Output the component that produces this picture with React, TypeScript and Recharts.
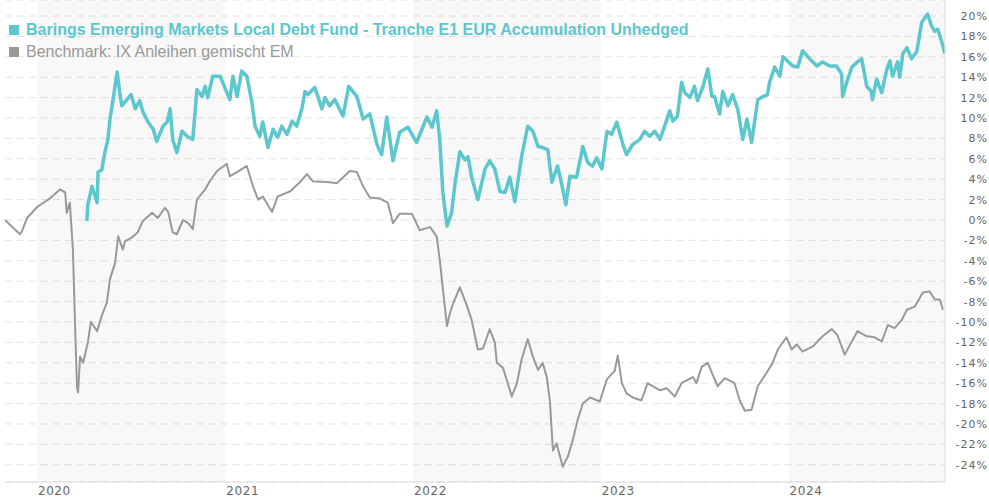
import React from 'react';
import { LineChart, Line, XAxis, YAxis, CartesianGrid, ReferenceArea } from 'recharts';

const fundName = 'Barings Emerging Markets Local Debt Fund - Tranche E1 EUR Accumulation Unhedged';
const benchName = 'Benchmark: IX Anleihen gemischt EM';

const benchDates = [
  '2019-10-31','2019-11-29','2019-12-03','2019-12-13','2020-01-02','2020-01-26','2020-02-15','2020-02-25','2020-02-28','2020-03-05',
  '2020-03-11','2020-03-15','2020-03-19','2020-03-21','2020-03-25','2020-03-31','2020-04-09','2020-04-15','2020-04-27','2020-05-06',
  '2020-05-16','2020-05-22','2020-06-01','2020-06-07','2020-06-16','2020-06-20','2020-07-04','2020-07-15','2020-07-25','2020-08-12',
  '2020-08-23','2020-09-06','2020-09-12','2020-09-21','2020-09-29','2020-10-11','2020-10-21','2020-10-30','2020-11-07','2020-11-23',
  '2020-12-02','2020-12-16','2021-01-04','2021-01-10','2021-01-24','2021-02-12','2021-02-24','2021-03-06','2021-03-15','2021-04-02',
  '2021-04-13','2021-05-07','2021-05-26','2021-06-09','2021-06-20','2021-07-23','2021-08-06','2021-08-31','2021-09-14','2021-09-26',
  '2021-10-09','2021-10-29','2021-11-13','2021-11-23','2021-12-06','2021-12-30','2022-01-14','2022-02-03','2022-02-16','2022-02-22',
  '2022-02-26','2022-03-08','2022-03-14','2022-03-19','2022-04-02','2022-04-15','2022-04-25','2022-05-07','2022-05-17','2022-05-30',
  '2022-06-09','2022-06-13','2022-06-25','2022-07-12','2022-07-22','2022-07-31','2022-08-12','2022-08-22','2022-09-01','2022-09-10',
  '2022-09-18','2022-09-24','2022-09-30','2022-10-07','2022-10-19','2022-10-29','2022-11-08','2022-11-17','2022-11-27','2022-12-11',
  '2022-12-30','2023-01-13','2023-01-28','2023-02-03','2023-02-11','2023-02-20','2023-03-04','2023-03-21','2023-04-02','2023-04-26',
  '2023-05-09','2023-05-25','2023-06-07','2023-06-29','2023-07-06','2023-07-16','2023-07-28','2023-08-05','2023-08-16','2023-08-30',
  '2023-09-18','2023-09-28','2023-10-08','2023-10-21','2023-11-02','2023-11-19','2023-12-01','2023-12-11','2023-12-28','2024-01-07',
  '2024-01-17','2024-01-28','2024-02-17','2024-03-07','2024-03-25','2024-04-05','2024-04-19','2024-05-03','2024-05-14','2024-06-01',
  '2024-06-16','2024-06-30','2024-07-12','2024-07-25','2024-08-08','2024-08-18','2024-09-02','2024-09-18','2024-10-01','2024-10-11',
  '2024-10-21','2024-10-27'
];
const benchValues = [
  0.0, -1.4, -1.1, 0.2, 1.3, 2.1, 3.0, 2.7, 0.7, 1.7,
  -2.9, -10.0, -16.4, -16.9, -13.4, -14.0, -12.0, -10.0, -10.9, -9.4,
  -8.1, -5.8, -4.2, -1.6, -2.9, -2.1, -1.7, -1.2, -0.1, 0.7,
  0.2, 1.2, 0.8, -1.2, -1.4, 0.0, -0.3, -0.9, 2.0, 3.0,
  3.8, 4.8, 5.5, 4.3, 4.7, 5.3, 3.3, 2.0, 2.3, 0.8,
  2.3, 2.8, 3.7, 4.5, 3.8, 3.7, 3.6, 4.8, 4.7, 3.3,
  2.2, 2.1, 1.7, -0.3, 0.6, 0.6, -1.0, -0.7, -1.6, -3.9,
  -5.8, -10.4, -9.1, -8.3, -6.6, -8.3, -9.8, -12.7, -12.6, -10.7,
  -12.0, -14.0, -14.5, -17.3, -16.0, -13.7, -11.7, -13.4, -14.7, -14.0,
  -15.4, -17.7, -22.6, -21.9, -24.2, -23.2, -21.5, -19.6, -18.0, -17.4,
  -17.8, -15.6, -14.8, -13.3, -16.0, -17.0, -17.4, -17.7, -16.0, -16.7,
  -16.5, -17.3, -16.0, -15.4, -16.0, -14.4, -14.0, -15.0, -16.3, -15.5,
  -16.0, -17.7, -18.7, -18.6, -16.3, -15.0, -14.0, -12.7, -11.5, -12.7,
  -12.2, -12.9, -12.4, -11.4, -10.7, -11.3, -13.2, -11.9, -10.9, -11.4,
  -11.5, -11.9, -10.3, -10.6, -9.8, -8.8, -8.5, -7.1, -7.0, -7.8,
  -7.8, -8.8
];

const fundDates = [
  '2020-04-07','2020-04-09','2020-04-17','2020-04-27','2020-04-29','2020-05-06','2020-05-12','2020-05-18','2020-05-22','2020-05-28',
  '2020-06-05','2020-06-10','2020-06-14','2020-06-24','2020-07-02','2020-07-10','2020-07-19','2020-07-25','2020-08-04','2020-08-14',
  '2020-08-21','2020-09-02','2020-09-10','2020-09-16','2020-09-21','2020-09-29','2020-10-09','2020-10-19','2020-10-30','2020-11-07',
  '2020-11-17','2020-11-23','2020-11-28','2020-12-08','2020-12-22','2020-12-27','2021-01-10','2021-01-16','2021-01-24','2021-02-02',
  '2021-02-12','2021-02-22','2021-02-28','2021-03-09','2021-03-15','2021-03-25','2021-04-04','2021-04-13','2021-04-21','2021-05-01',
  '2021-05-11','2021-05-20','2021-05-30','2021-06-05','2021-06-11','2021-06-24','2021-07-08','2021-07-14','2021-07-23','2021-08-02',
  '2021-08-18','2021-08-29','2021-09-14','2021-09-26','2021-10-09','2021-10-23','2021-11-01','2021-11-11','2021-11-23','2021-12-06',
  '2021-12-22','2022-01-08','2022-01-28','2022-02-07','2022-02-16','2022-02-22','2022-02-28','2022-03-08','2022-03-17','2022-03-23',
  '2022-04-02','2022-04-12','2022-04-18','2022-04-25','2022-05-07','2022-05-21','2022-05-30','2022-06-09','2022-06-19','2022-06-29',
  '2022-07-08','2022-07-18','2022-07-31','2022-08-12','2022-08-22','2022-09-01','2022-09-10','2022-09-20','2022-09-28','2022-10-09',
  '2022-10-17','2022-10-25','2022-11-02','2022-11-15','2022-11-27','2022-12-07','2022-12-16','2022-12-24','2023-01-03','2023-01-13',
  '2023-01-22','2023-02-01','2023-02-13','2023-02-20','2023-03-04','2023-03-18','2023-03-27','2023-04-06','2023-04-16','2023-04-26',
  '2023-05-05','2023-05-15','2023-05-21','2023-05-30','2023-06-07','2023-06-13','2023-06-23','2023-07-02','2023-07-08','2023-07-18',
  '2023-07-28','2023-08-05','2023-08-10','2023-08-20','2023-08-26','2023-09-05','2023-09-14','2023-09-24','2023-10-04','2023-10-12',
  '2023-10-21','2023-11-02','2023-11-12','2023-11-21','2023-11-25','2023-12-05','2023-12-15','2023-12-21','2023-12-30','2024-01-09',
  '2024-01-19','2024-01-28','2024-02-11','2024-02-25','2024-03-07','2024-03-21','2024-04-03','2024-04-13','2024-04-15','2024-04-23',
  '2024-05-03','2024-05-14','2024-05-22','2024-06-01','2024-06-10','2024-06-12','2024-06-20','2024-06-30','2024-07-10','2024-07-16',
  '2024-07-21','2024-07-31','2024-08-04','2024-08-10','2024-08-18','2024-08-27','2024-09-06','2024-09-16','2024-09-27','2024-10-05',
  '2024-10-11','2024-10-17','2024-10-25','2024-10-31'
];
const fundValues = [
  -0.1, 1.5, 3.3, 1.7, 4.7, 4.9, 6.6, 7.9, 9.9, 11.8,
  14.5, 12.5, 11.2, 11.8, 12.3, 10.9, 11.7, 10.6, 9.6, 8.9,
  7.7, 9.2, 9.6, 10.9, 7.9, 6.6, 8.7, 8.2, 7.9, 12.8,
  12.1, 13.1, 12.0, 14.1, 14.1, 13.5, 11.8, 14.1, 12.1, 14.6,
  14.1, 11.5, 9.2, 8.2, 9.6, 7.1, 8.9, 8.1, 9.2, 8.4,
  9.7, 9.2, 10.9, 12.6, 12.3, 13.0, 10.9, 12.0, 11.2, 11.8,
  10.2, 13.1, 12.1, 9.9, 10.4, 7.4, 6.4, 10.1, 5.8, 8.6,
  9.1, 7.6, 10.1, 9.1, 10.7, 7.9, 2.7, -0.6, 0.7, 3.3,
  6.7, 5.9, 6.2, 4.2, 2.0, 5.0, 5.8, 5.0, 2.8, 2.7,
  4.2, 1.8, 6.2, 9.2, 8.7, 7.2, 7.1, 6.9, 3.7, 5.3,
  3.5, 1.5, 4.3, 4.2, 7.2, 5.6, 5.3, 6.1, 5.0, 8.7,
  8.4, 9.6, 7.4, 6.4, 7.4, 7.9, 8.7, 8.2, 8.7, 7.9,
  9.2, 10.7, 9.7, 10.2, 13.5, 12.5, 12.0, 13.1, 11.7, 13.0,
  14.8, 12.1, 12.1, 10.4, 12.6, 11.2, 12.3, 10.9, 7.9, 9.9,
  7.6, 11.8, 12.1, 12.3, 13.5, 15.0, 14.1, 16.0, 15.6, 15.1,
  15.0, 16.6, 15.8, 15.1, 15.5, 15.1, 15.1, 14.3, 12.1, 13.5,
  15.0, 15.5, 15.8, 13.1, 12.6, 11.8, 13.8, 12.5, 14.8, 15.6,
  14.1, 15.5, 14.0, 16.3, 16.9, 15.8, 16.5, 19.4, 20.2, 19.0,
  18.5, 18.7, 17.4, 16.3
];

const yearTickDates = ['2020-01-01', '2021-01-01', '2022-01-01', '2023-01-01', '2024-01-01'];
const yearTickLabels = ['2020', '2021', '2022', '2023', '2024'];
const shadedYears = [
  ['2020-01-01', '2021-01-01'],
  ['2022-01-01', '2023-01-01'],
  ['2024-01-01', '2024-10-31'],
];
const yTicks = [-24, -22, -20, -18, -16, -14, -12, -10, -8, -6, -4, -2, 0, 2, 4, 6, 8, 10, 12, 14, 16, 18, 20];
const rangeStart = '2019-10-31';
const rangeEnd = '2024-10-31';

const ts = (d: string) => Date.parse(d);
const benchData = benchDates.map((d, i) => ({ t: ts(d), v: benchValues[i] }));
const fundData = fundDates.map((d, i) => ({ t: ts(d), v: fundValues[i] }));
const xTicks = yearTickDates.map(ts);
const labelFor = (v: number) => {
  const i = xTicks.indexOf(v);
  return i >= 0 ? yearTickLabels[i] : '';
};

const FUND_COLOR = '#5cc7cd';
const BENCH_COLOR = '#999999';

const XTick = (props: any) => (
  <text x={props.x + 1} y={props.y} dy={13} textAnchor="start" fontFamily="DejaVu Sans" fontSize={12} letterSpacing={0.6} fill="#666">
    {labelFor(props.payload.value)}
  </text>
);

const YTick = (props: any) => (
  <text x={988} y={props.y} dy={4} textAnchor="end" fontFamily="DejaVu Sans" fontSize={11} letterSpacing={1} fill="#666">
    {props.payload.value}%
  </text>
);

export default function App() {
  return (
    <div style={{ position: 'absolute', left: 0, top: 0, width: 989, height: 500, background: '#fff' }}>
      <LineChart width={989} height={500} margin={{ top: 0, right: 0, bottom: 0, left: 5 }}>
        {shadedYears.map(([a, b]) => (
          <ReferenceArea key={a} x1={ts(a)} x2={ts(b)} fill="#000" fillOpacity={0.028} stroke="none" ifOverflow="hidden" />
        ))}
        <CartesianGrid vertical={false} stroke="#e3e3e3" strokeDasharray="7 5" />
        <XAxis
          type="number"
          dataKey="t"
          domain={[ts(rangeStart), ts(rangeEnd)]}
          ticks={xTicks}
          allowDataOverflow
          height={18}
          tickLine={false}
          tickSize={0}
          tickMargin={0}
          axisLine={{ stroke: '#dddddd' }}
          tick={<XTick />}
          interval={0}
        />
        <YAxis
          orientation="right"
          type="number"
          domain={[-25.69, 21.57]}
          ticks={yTicks}
          allowDataOverflow
          width={44}
          tickLine={false}
          tickSize={0}
          axisLine={{ stroke: '#dddddd' }}
          tick={<YTick />}
          interval={0}
        />
        <Line data={benchData} dataKey="v" type="linear" stroke={BENCH_COLOR} strokeWidth={2} dot={false} isAnimationActive={false} strokeLinejoin="round" />
        <Line data={fundData} dataKey="v" type="linear" stroke={FUND_COLOR} strokeWidth={3.5} dot={false} isAnimationActive={false} strokeLinejoin="round" />
      </LineChart>
      <div style={{ position: 'absolute', left: 9, top: 21, fontFamily: '"Liberation Sans", Arial, sans-serif' }}>
        <div style={{ display: 'flex', alignItems: 'center', height: 18, color: FUND_COLOR, fontWeight: 'bold', fontSize: 16 }}>
          <span style={{ display: 'inline-block', width: 10, height: 10, background: FUND_COLOR, marginRight: 7 }} />
          <span>{fundName}</span>
        </div>
        <div style={{ display: 'flex', alignItems: 'center', height: 18, marginTop: 4, color: BENCH_COLOR, fontSize: 16 }}>
          <span style={{ display: 'inline-block', width: 10, height: 10, background: BENCH_COLOR, marginRight: 7 }} />
          <span>{benchName}</span>
        </div>
      </div>
    </div>
  );
}
